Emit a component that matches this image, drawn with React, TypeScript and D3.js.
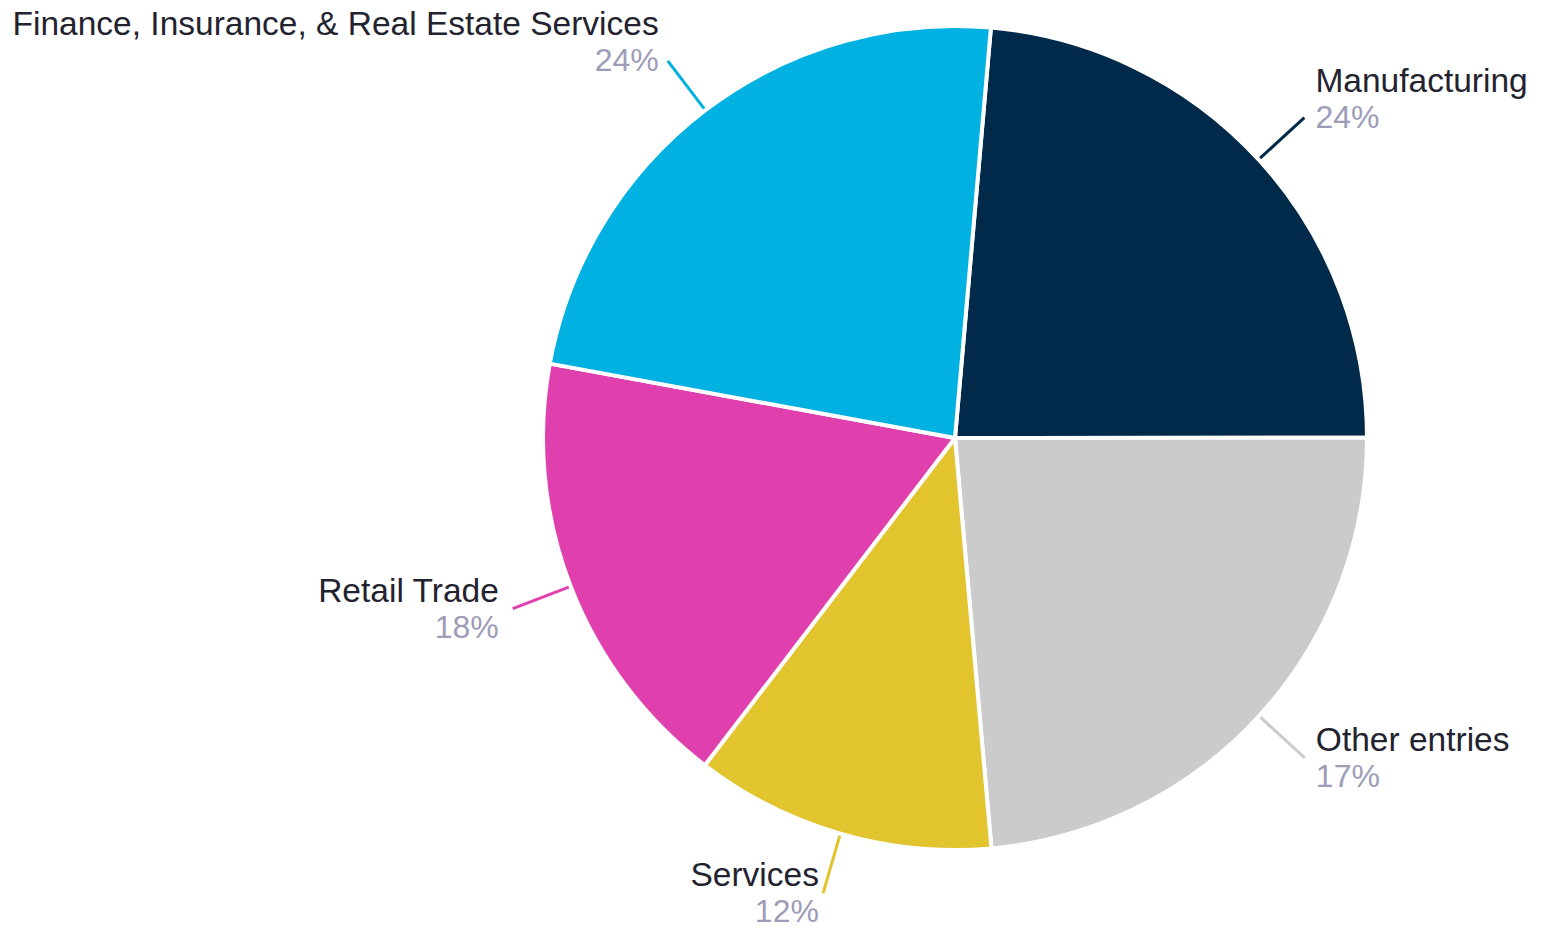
import React from 'react'
import * as d3 from 'd3'

const categories = ['Manufacturing', 'Other entries', 'Services', 'Retail Trade', 'Finance, Insurance, & Real Estate Services']
const sliceValues = [23.6, 23.6, 11.8, 17.5, 23.5]
const pctLabels = ['24%', '17%', '12%', '18%', '24%']
const colors = ['#012a4a', '#cbcbcb', '#e2c42e', '#e040ae', '#00b1e1']

const App = () => {
  const width = 1547
  const height = 928
  const cx = 955
  const cy = 438
  const radius = 412

  const pieGen = d3.pie<number>()
    .sort(null)
    .value(d => d)
    .startAngle(5 * Math.PI / 180)
    .endAngle(5 * Math.PI / 180 + 2 * Math.PI)

  const arcGen = d3.arc<d3.PieArcDatum<number>>()
    .innerRadius(0)
    .outerRadius(radius)

  const arcs = pieGen(sliceValues)

  return (
    <svg width={width} height={height} style={{ position: 'absolute', left: 0, top: 0 }}>
      <g transform={`translate(${cx}, ${cy})`}>
        {arcs.map((d, i) => (
          <path key={i} d={arcGen(d) || ''} fill={colors[i]} stroke="#fff" strokeWidth={4} strokeLinejoin="round" />
        ))}
        {arcs.map((d, i) => {
          const mid = (d.startAngle + d.endAngle) / 2
          const s = Math.sin(mid)
          const c = Math.cos(mid)
          const x1 = (radius + 2) * s
          const y1 = -(radius + 2) * c
          const x2 = (radius + 62) * s
          const y2 = -(radius + 62) * c
          const right = s > 0
          const top = c > 0
          const tx = x2 + (right ? 1 : -1) * 15 * Math.abs(s)
          const nameY = top ? y2 - 26 : y2 - 7
          const pctY = top ? y2 + 10 : y2 + 29
          const anchor = right ? 'start' : 'end'
          return (
            <g key={'l' + i}>
              <line x1={x1} y1={y1} x2={x2} y2={y2} stroke={colors[i]} strokeWidth={3} />
              <text x={tx} y={nameY} textAnchor={anchor} fontFamily="Liberation Sans, Arial, sans-serif" fontSize={33.5} fill="#23232f">
                {categories[i]}
              </text>
              <text x={tx} y={pctY} textAnchor={anchor} fontFamily="Liberation Sans, Arial, sans-serif" fontSize={32} fill="#9d9db8">
                {pctLabels[i]}
              </text>
            </g>
          )
        })}
      </g>
    </svg>
  )
}

export default App
